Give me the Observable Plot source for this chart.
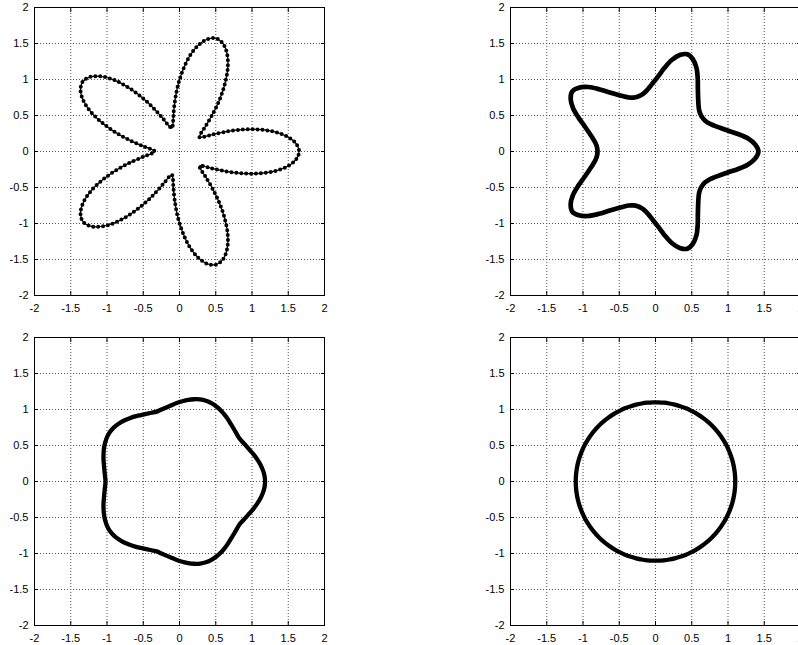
<!DOCTYPE html>
<html>
<head>
<meta charset="utf-8">
<script src="https://cdn.jsdelivr.net/npm/d3@7"></script>
<script src="https://cdn.jsdelivr.net/npm/@observablehq/plot@0.6"></script>
<style>
  html, body { margin: 0; padding: 0; background: #fff; overflow: hidden; }
  #wrap { position: relative; width: 798px; height: 645px; overflow: hidden; background: #fff; }
  .panel { position: absolute; width: 360px; height: 320px; }
  .panel svg { max-width: none !important; width: 360px; height: 320px; }
</style>
</head>
<body>
<div id="wrap"></div>
<script>
// Tick values (both axes, all panels)
const ticks = [-2, -1.5, -1, -0.5, 0, 0.5, 1, 1.5, 2];

// Polar profile of one half-petal (angle in degrees from a tip).
const profileAngles = [0, 4, 8, 12, 16, 20, 24, 28, 32, 36];
const radiiStar   = [1.65, 1.61, 1.50, 1.33, 1.11, 0.88, 0.66, 0.49, 0.38, 0.34];
const radiiWavy   = [1.42, 1.38, 1.29, 1.165, 1.045, 0.955, 0.885, 0.835, 0.808, 0.80];
const radiiSmooth = [1.18, 1.175, 1.16, 1.14, 1.115, 1.09, 1.065, 1.045, 1.03, 1.02];
const radiiCircle = [1.10, 1.10, 1.10, 1.10, 1.10, 1.10, 1.10, 1.10, 1.10, 1.10];
const petals = 5;

// Build the closed outline (5 petals, each mirrored about its tip) from a profile.
function outline(radii) {
  const pts = [];
  for (let p = 0; p < petals; p++) {
    const c = p * 360 / petals;
    for (let i = profileAngles.length - 1; i >= 1; i--) {
      const a = (c - profileAngles[i]) * Math.PI / 180;
      pts.push({x: radii[i] * Math.cos(a), y: radii[i] * Math.sin(a)});
    }
    for (let i = 0; i < profileAngles.length - 1; i++) {
      const a = (c + profileAngles[i]) * Math.PI / 180;
      pts.push({x: radii[i] * Math.cos(a), y: radii[i] * Math.sin(a)});
    }
  }
  return pts;
}

const fmt = d => String(d);

function panel(curveMarks) {
  return Plot.plot({
    width: 360, height: 320,
    marginLeft: 34, marginRight: 36, marginTop: 7, marginBottom: 25,
    x: {domain: [-2, 2], label: null},
    y: {domain: [-2, 2], label: null},
    style: {fontFamily: "'Liberation Sans', Arial, Helvetica, sans-serif", fontSize: "11px", color: "#000", background: "transparent", overflow: "visible", maxWidth: "none"},
    marks: [
      Plot.gridX({ticks, stroke: "#555", strokeOpacity: 1, strokeDasharray: "1,2"}),
      Plot.gridY({ticks, stroke: "#555", strokeOpacity: 1, strokeDasharray: "1,2"}),
      Plot.axisX({anchor: "bottom", ticks, tickSize: -4, tickFormat: () => ""}),
      Plot.axisX({anchor: "top", ticks, tickSize: -4, tickFormat: () => ""}),
      Plot.axisY({anchor: "left", ticks, tickSize: -4, tickFormat: () => ""}),
      Plot.axisY({anchor: "right", ticks, tickSize: -4, tickFormat: () => ""}),
      Plot.axisX({anchor: "bottom", ticks, tickSize: 0, tickPadding: 9, tickFormat: fmt}),
      Plot.axisY({anchor: "left", ticks, tickSize: 0, tickPadding: 6, tickFormat: fmt}),
      ...curveMarks,
      Plot.frame({stroke: "#000", strokeWidth: 1})
    ]
  });
}

const starPts = outline(radiiStar);
const wavyPts = outline(radiiWavy);
const smoothPts = outline(radiiSmooth);
const circlePts = outline(radiiCircle);

const panels = [
  {left: 0, top: 0, marks: [
    Plot.line(starPts, {x: "x", y: "y", curve: "catmull-rom-closed", stroke: "#000", strokeWidth: 1.2}),
    Plot.line(starPts, {x: "x", y: "y", curve: "catmull-rom-closed", stroke: "#000", strokeWidth: 4, strokeLinecap: "round", strokeDasharray: "0,4.9"})
  ]},
  {left: 476, top: 0, marks: [
    Plot.line(wavyPts, {x: "x", y: "y", curve: "catmull-rom-closed", stroke: "#000", strokeWidth: 4.7, strokeLinejoin: "round"})
  ]},
  {left: 0, top: 330, marks: [
    Plot.line(smoothPts, {x: "x", y: "y", curve: "catmull-rom-closed", stroke: "#000", strokeWidth: 4.3, strokeLinejoin: "round"})
  ]},
  {left: 476, top: 330, marks: [
    Plot.line(circlePts, {x: "x", y: "y", curve: "catmull-rom-closed", stroke: "#000", strokeWidth: 4.3, strokeLinejoin: "round"})
  ]}
];

const wrap = document.getElementById("wrap");
for (const p of panels) {
  const div = document.createElement("div");
  div.className = "panel";
  div.style.left = p.left + "px";
  div.style.top = p.top + "px";
  div.appendChild(panel(p.marks));
  wrap.appendChild(div);
}
</script>
</body>
</html>
